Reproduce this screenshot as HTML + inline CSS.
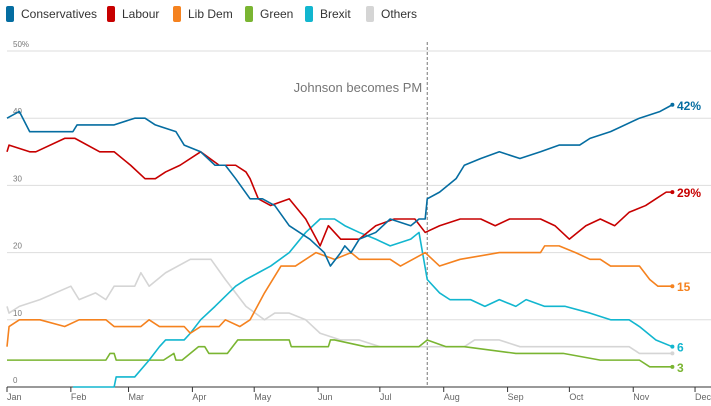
<!DOCTYPE html>
<html><head><meta charset="utf-8"><style>
body{margin:0;background:#fff;font-family:"Liberation Sans",sans-serif;}
#wrap{position:relative;width:711px;height:406px;overflow:hidden}
.leg{position:absolute;top:6px;font-size:12px;color:#333;display:flex;align-items:center}
.sw{display:inline-block;width:8px;height:16px;border-radius:2px;margin-right:7px}
</style></head><body>
<div id="wrap">
<div class="leg" style="left:6px"><span class="sw" style="background:#056da1"></span>Conservatives</div>
<div class="leg" style="left:107px"><span class="sw" style="background:#c70000"></span>Labour</div>
<div class="leg" style="left:173px"><span class="sw" style="background:#f5821f"></span>Lib Dem</div>
<div class="leg" style="left:245px"><span class="sw" style="background:#7ab532"></span>Green</div>
<div class="leg" style="left:305px"><span class="sw" style="background:#12b6cf"></span>Brexit</div>
<div class="leg" style="left:366px"><span class="sw" style="background:#d5d5d5"></span>Others</div>
<svg id="svg" width="711" height="406" style="position:absolute;left:0;top:0"></svg>
</div>
<script>
const yTicks=[0,10,20,30,40,50];
const yTickLabels=["0","10","20","30","40","50%"];
const months=["Jan","Feb","Mar","Apr","May","Jun","Jul","Aug","Sep","Oct","Nov","Dec"];
const monthDays=[0,31,59,90,120,151,181,212,243,273,304,334];
const eventDay=204;
const eventLabel="Johnson becomes PM";
const conDays=[0,6,11,32,34,52,62,67,72,82,86,94,101,106,111,118,124,130,137,147,154,157,162,164,167,171,179,186,196,200,203,204,210,218,222,230,239,249,259,268,278,283,293,307,317,323];
const conVals=[40,41,38,38,39,39,40,40,39,38,36,35,33,33,31,28,28,27,24,22,20,18,20,21,20,22,23,25,24,25,25,28,29,31,33,34,35,34,35,36,36,37,38,40,41,42];
const labDays=[0,1,11,14,28,33,45,52,60,67,72,77,84,94,103,111,116,118,122,128,137,145,152,156,162,171,179,188,198,203,210,220,230,237,244,259,266,273,281,288,295,302,310,315,320,323];
const labVals=[35,36,35,35,37,37,35,35,33,31,31,32,33,35,33,33,32,31,28,27,28,25,21,24,22,22,24,25,25,23,24,25,25,24,25,25,24,22,24,25,24,26,27,28,29,29];
const ldDays=[0,1,6,16,28,35,48,52,65,69,74,86,89,94,103,106,113,118,125,133,140,150,159,167,171,186,191,203,210,220,239,259,261,268,276,283,288,293,307,312,316,323];
const ldVals=[6,9,10,10,9,10,10,9,9,10,9,9,8,9,9,10,9,10,14,18,18,20,19,20,19,19,18,20,18,19,20,20,21,21,20,19,19,18,18,16,15,15];
const grnDays=[0,48,50,52,53,76,81,82,85,93,95,96,98,107,112,122,123,125,137,138,142,150,156,157,159,174,179,196,200,204,213,222,247,262,270,288,307,312,316,323];
const grnVals=[4,4,5,5,4,4,5,4,4,6,6,6,5,5,7,7,7,7,7,6,6,6,6,7,7,6,6,6,6,7,6,6,5,5,5,4,4,3,3,3];
const brxDays=[32,52,53,62,69,74,77,86,89,94,101,111,116,122,128,137,145,152,159,164,171,179,186,196,200,204,210,215,225,232,239,247,252,261,271,283,293,302,307,315,323];
const brxVals=[0,0,1.5,1.5,4,6,7,7,8,10,12,15,16,17,18,20,23,25,25,24,23,22,21,22,23,16,14,13,13,12,13,12,13,12,12,11,10,10,9,7,6];
const othDays=[0,1,6,16,31,35,43,48,52,62,65,69,77,89,99,106,116,125,130,137,145,152,162,171,181,200,210,218,222,227,239,249,302,307,323];
const othVals=[12,11,12,13,15,13,14,13,15,15,17,15,17,19,19,16,12,10,11,11,10,8,7,7,6,6,6,6,6,7,7,6,6,5,5];
const endLabels=[["42%",42,"#056da1"],["29%",29,"#c70000"],["15",15,"#f5821f"],["6",6,"#12b6cf"],["3",3,"#7ab532"]];

const svg=document.getElementById('svg');
const NS='http://www.w3.org/2000/svg';
const X0=7,PXD=2.06,Y0=387,PXV=6.72;
function xs(d){return X0+d*PXD}
function ys(v){return Y0-v*PXV}
function mk(t,a){const e=document.createElementNS(NS,t);for(const k in a)e.setAttribute(k,a[k]);svg.appendChild(e);return e}
yTicks.forEach((v,i)=>{
  const l=mk('line',{x1:7,x2:711,y1:ys(v),y2:ys(v),stroke:v===0?'#333':'#ddd','stroke-width':1});
  
  
  const t=mk('text',{x:13,y:ys(v)-4,'font-size':8,fill:'#777'});t.textContent=yTickLabels[i];
  
  
});
months.forEach((m,i)=>{
  const x=xs(monthDays[i]);
  const tk=mk('line',{x1:x,x2:x,y1:Y0,y2:Y0+5,stroke:'#333'});
  
  
  const t=mk('text',{x:x,y:400,'font-size':9,fill:'#666'});t.textContent=m;
  
  
});
const ev=mk('line',{x1:xs(eventDay),x2:xs(eventDay),y1:42,y2:Y0,stroke:'#777','stroke-dasharray':'3,2'});


const et=mk('text',{x:xs(eventDay)-5,y:92,'font-size':13,fill:'#767676','text-anchor':'end'});et.textContent=eventLabel;


const series=[["others",othDays,othVals,"#d5d5d5"],["green",grnDays,grnVals,"#7ab532"],["brexit",brxDays,brxVals,"#12b6cf"],["lib-dem",ldDays,ldVals,"#f5821f"],["labour",labDays,labVals,"#c70000"],["conservatives",conDays,conVals,"#056da1"]];
series.forEach(s=>{
  const pts=s[1].map((d,i)=>xs(d)+','+ys(s[2][i])).join(' ');
  const p=mk('polyline',{points:pts,fill:'none',stroke:s[3],'stroke-width':1.6,'stroke-linejoin':'round'});
  
  
  const n=s[1].length;
  const c=mk('circle',{cx:xs(s[1][n-1]),cy:ys(s[2][n-1]),r:2,fill:s[3]});
  
  
});
endLabels.forEach(e=>{
  const t=mk('text',{x:677,y:ys(e[1])+5,'font-size':12,'font-weight':'bold',fill:e[2]});t.textContent=e[0];
  
  
});
</script>
</body></html>
